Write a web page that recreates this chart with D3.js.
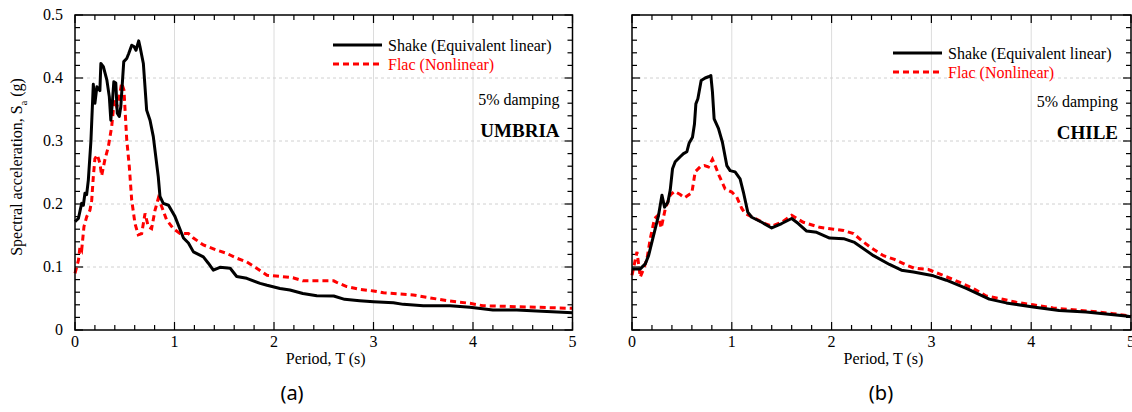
<!DOCTYPE html>
<meta charset="utf-8">
<style>
body { margin: 0; background: #fff; }
svg text { font-family: "Liberation Serif", "Times New Roman", serif; }
.grid-x { stroke: #dcdcdc; stroke-width: 1; }
.grid-y { stroke: #d0d0d0; stroke-width: 1; stroke-dasharray: 3,3; }
.frame { fill: none; stroke: #000; stroke-width: 1.5; }
.tick { stroke: #000; stroke-width: 1.2; }
.shake { fill: none; stroke: #000; stroke-width: 3; stroke-linejoin: round; }
.flac { fill: none; stroke: #ff0000; stroke-width: 3; stroke-dasharray: 6,4; }
</style>
<svg width="1132" height="412"></svg>
<script src="https://d3js.org/d3.v7.min.js"></script>
<script>

// period T (s), spectral acceleration Sa (g)
var umbriaShake = [
  [0,0.172],[0.034,0.177],[0.067,0.201],[0.084,0.198],[0.1,0.217],[0.117,0.215],
  [0.134,0.238],[0.16,0.30],[0.184,0.39],[0.2,0.36],[0.22,0.386],[0.25,0.38],
  [0.26,0.423],[0.285,0.418],[0.32,0.397],[0.345,0.37],[0.36,0.333],[0.375,0.36],
  [0.39,0.394],[0.41,0.392],[0.425,0.344],[0.445,0.339],[0.46,0.354],[0.49,0.426],
  [0.52,0.431],[0.54,0.439],[0.57,0.452],[0.593,0.45],[0.613,0.444],[0.64,0.459],
  [0.653,0.45],[0.687,0.423],[0.72,0.349],[0.754,0.333],[0.787,0.307],[0.837,0.243],
  [0.854,0.212],[0.887,0.201],[0.94,0.198],[1.005,0.18],[1.09,0.146],[1.14,0.138],
  [1.19,0.124],[1.29,0.116],[1.34,0.106],[1.39,0.095],[1.457,0.0995],[1.56,0.098],
  [1.625,0.085],[1.726,0.082],[1.86,0.074],[1.93,0.071],[2.06,0.066],[2.16,0.0635],
  [2.29,0.058],[2.43,0.0545],[2.6,0.054],[2.71,0.0487],[2.86,0.0466],[3.0,0.045],
  [3.2,0.0434],[3.3,0.0407],[3.5,0.0386],[3.77,0.0386],[3.97,0.036],[4.2,0.0317],
  [4.44,0.0317],[4.64,0.030],[5.0,0.0275]
];

var umbriaFlac = [
  [0,0.09],[0.035,0.111],[0.05,0.132],[0.067,0.127],[0.09,0.164],[0.118,0.18],
  [0.15,0.19],[0.168,0.206],[0.184,0.243],[0.2,0.272],[0.224,0.278],[0.25,0.265],
  [0.268,0.245],[0.30,0.27],[0.335,0.291],[0.369,0.323],[0.395,0.365],[0.419,0.354],
  [0.445,0.370],[0.469,0.392],[0.492,0.381],[0.52,0.302],[0.546,0.259],[0.57,0.206],
  [0.603,0.169],[0.636,0.151],[0.67,0.153],[0.704,0.185],[0.737,0.164],[0.77,0.161],
  [0.804,0.19],[0.837,0.209],[0.871,0.196],[0.92,0.175],[0.988,0.161],[1.055,0.153],
  [1.14,0.153],[1.19,0.146],[1.29,0.135],[1.42,0.127],[1.52,0.122],[1.625,0.114],
  [1.726,0.108],[1.826,0.098],[1.93,0.087],[2.06,0.085],[2.19,0.083],[2.29,0.078],
  [2.6,0.078],[2.63,0.0757],[2.73,0.069],[2.86,0.0646],[3.0,0.062],[3.1,0.059],
  [3.4,0.0556],[3.53,0.052],[3.74,0.0466],[3.97,0.0423],[4.1,0.0386],[4.44,0.037],
  [5.0,0.0344]
];

var chileShake = [
  [0,0.097],[0.083,0.097],[0.133,0.105],[0.166,0.118],[0.2,0.14],[0.233,0.161],
  [0.266,0.182],[0.3,0.214],[0.326,0.195],[0.36,0.203],[0.383,0.222],[0.406,0.256],
  [0.433,0.267],[0.483,0.275],[0.516,0.28],[0.55,0.283],[0.573,0.297],[0.606,0.306],
  [0.626,0.327],[0.64,0.359],[0.66,0.367],[0.693,0.396],[0.733,0.4],[0.766,0.402],
  [0.79,0.404],[0.806,0.378],[0.823,0.335],[0.866,0.32],[0.906,0.298],[0.95,0.261],
  [0.983,0.253],[1.033,0.251],[1.083,0.24],[1.116,0.219],[1.16,0.187],[1.2,0.179],
  [1.3,0.171],[1.4,0.162],[1.5,0.169],[1.6,0.177],[1.666,0.169],[1.75,0.157],
  [1.85,0.155],[1.98,0.146],[2.12,0.145],[2.23,0.139],[2.42,0.118],[2.58,0.104],
  [2.7,0.095],[2.82,0.092],[3.02,0.086],[3.15,0.079],[3.35,0.066],[3.58,0.049],
  [3.75,0.043],[4.02,0.0365],[4.28,0.031],[4.55,0.0286],[4.95,0.0222],[5.0,0.021]
];

var chileFlac = [
  [0,0.087],[0.05,0.124],[0.083,0.084],[0.116,0.097],[0.15,0.113],[0.183,0.145],
  [0.226,0.177],[0.26,0.182],[0.293,0.162],[0.333,0.192],[0.383,0.214],[0.426,0.22],
  [0.483,0.215],[0.526,0.21],[0.6,0.218],[0.633,0.251],[0.683,0.259],[0.726,0.261],
  [0.766,0.259],[0.806,0.271],[0.833,0.261],[0.873,0.245],[0.933,0.224],[1.0,0.219],
  [1.05,0.211],[1.1,0.193],[1.133,0.185],[1.233,0.177],[1.333,0.169],[1.4,0.165],
  [1.5,0.171],[1.6,0.182],[1.716,0.171],[1.88,0.163],[2.02,0.16],[2.12,0.158],
  [2.22,0.153],[2.3,0.142],[2.4,0.13],[2.52,0.118],[2.63,0.112],[2.75,0.103],
  [2.83,0.098],[2.97,0.096],[3.08,0.089],[3.22,0.08],[3.42,0.066],[3.55,0.054],
  [3.68,0.05],[3.85,0.044],[4.02,0.04],[4.22,0.035],[4.42,0.032],[4.62,0.0295],
  [4.82,0.026],[5.0,0.022]
];

var xTicks = [0, 1, 2, 3, 4, 5];
var yTicks = [0, 0.1, 0.2, 0.3, 0.4, 0.5];
var seriesNames = ["Shake (Equivalent linear)", "Flac (Nonlinear)"];

var serif = "'Liberation Serif', 'Times New Roman', serif";
var svg = d3.select("svg");

function drawPanel(p) {
  var x = d3.scaleLinear().domain([0, 5]).range([p.x0, p.x1]);
  var y = d3.scaleLinear().domain([0, 0.5]).range([330, 15]);
  var g = svg.append("g").style("font-family", serif);

  // grid
  g.selectAll(".grid-x").data(xTicks.slice(1, -1)).enter().append("line")
      .attr("class", "grid-x")
      .attr("x1", x).attr("x2", x)
      .attr("y1", y(0)).attr("y2", y(0.5));
  g.selectAll(".grid-y").data(yTicks.slice(1, -1)).enter().append("line")
      .attr("class", "grid-y")
      .attr("x1", x(0)).attr("x2", x(5))
      .attr("y1", y).attr("y2", y);

  // inward ticks on all four sides
  var xMinor = d3.range(0, 5.001, 0.2);
  var yMinor = d3.range(0, 0.5001, 0.02);
  function isMajor(v, step) { return Math.abs(v / step - Math.round(v / step)) < 1e-6; }
  xMinor.forEach(function(v) {
    var len = isMajor(v, 1) ? 8 : 5;
    g.append("line").attr("class", "tick")
        .attr("x1", x(v)).attr("x2", x(v)).attr("y1", y(0)).attr("y2", y(0) - len);
    g.append("line").attr("class", "tick")
        .attr("x1", x(v)).attr("x2", x(v)).attr("y1", y(0.5)).attr("y2", y(0.5) + len);
  });
  yMinor.forEach(function(v) {
    var len = isMajor(v, 0.1) ? 8 : 5;
    g.append("line").attr("class", "tick")
        .attr("x1", x(0)).attr("x2", x(0) + len).attr("y1", y(v)).attr("y2", y(v));
    g.append("line").attr("class", "tick")
        .attr("x1", x(5)).attr("x2", x(5) - len).attr("y1", y(v)).attr("y2", y(v));
  });

  // curves
  var line = d3.line().x(function(d) { return x(d[0]); }).y(function(d) { return y(d[1]); });
  g.append("path").datum(p.flac).attr("class", "flac").attr("d", line);
  g.append("path").datum(p.shake).attr("class", "shake").attr("d", line);

  g.append("rect").attr("class", "frame")
      .attr("x", x(0)).attr("y", y(0.5))
      .attr("width", x(5) - x(0)).attr("height", y(0) - y(0.5));

  // tick labels
  g.selectAll(".xl").data(xTicks).enter().append("text")
      .attr("x", x).attr("y", 347)
      .attr("text-anchor", "middle").attr("font-size", 16)
      .text(function(d) { return d; });
  if (p.yLabels) {
    g.selectAll(".yl").data(yTicks).enter().append("text")
        .attr("x", x(0) - 12).attr("y", function(d) { return y(d) + 5; })
        .attr("text-anchor", "end").attr("font-size", 16)
        .text(function(d) { return d === 0 ? "0" : d.toFixed(1); });
  }

  g.append("text")
      .attr("x", (x(0) + x(5)) / 2 + 2).attr("y", 364)
      .attr("text-anchor", "middle").attr("font-size", 16)
      .text("Period, T (s)");

  // legend
  var lx = p.legendX, ly = p.legendY;
  g.append("line").attr("class", "shake")
      .attr("x1", lx).attr("x2", lx + 49).attr("y1", ly).attr("y2", ly);
  g.append("line").attr("class", "flac")
      .attr("x1", lx).attr("x2", lx + 49).attr("y1", ly + 19).attr("y2", ly + 19);
  g.append("text").attr("x", lx + 55).attr("y", ly + 6).attr("font-size", 16)
      .attr("fill", "#000").text(seriesNames[0]);
  g.append("text").attr("x", lx + 55).attr("y", ly + 25).attr("font-size", 16)
      .attr("fill", "#ff0000").text(seriesNames[1]);

  g.append("text").attr("x", x(5) - 13).attr("y", p.noteY)
      .attr("text-anchor", "end").attr("font-size", 16).text("5% damping");
  g.append("text").attr("x", x(5) - 13).attr("y", p.noteY + 32)
      .attr("text-anchor", "end").attr("font-size", 19).attr("font-weight", "bold")
      .text(p.name);

  g.append("text")
      .attr("x", p.captionX).attr("y", 400)
      .attr("text-anchor", "middle").attr("font-size", 20)
      .style("font-family", "'Noto Sans', 'Open Sans', sans-serif")
      .text(p.caption);
}

drawPanel({ x0: 75, x1: 572.5, shake: umbriaShake, flac: umbriaFlac, yLabels: true,
            legendX: 333, legendY: 45, noteY: 105, name: "UMBRIA", caption: "(a)", captionX: 292 });
drawPanel({ x0: 632, x1: 1131, shake: chileShake, flac: chileFlac, yLabels: false,
            legendX: 893, legendY: 53, noteY: 107, name: "CHILE", caption: "(b)", captionX: 881 });

// y axis title with subscript
var yt = svg.append("text")
    .attr("transform", "translate(22,167) rotate(-90)")
    .attr("text-anchor", "middle").attr("font-size", 16)
    .style("font-family", serif);
yt.append("tspan").text("Spectral acceleration, S");
yt.append("tspan").attr("font-size", 10).attr("dy", 5).text("a");
yt.append("tspan").attr("dy", -5).text(" (g)");

</script>
